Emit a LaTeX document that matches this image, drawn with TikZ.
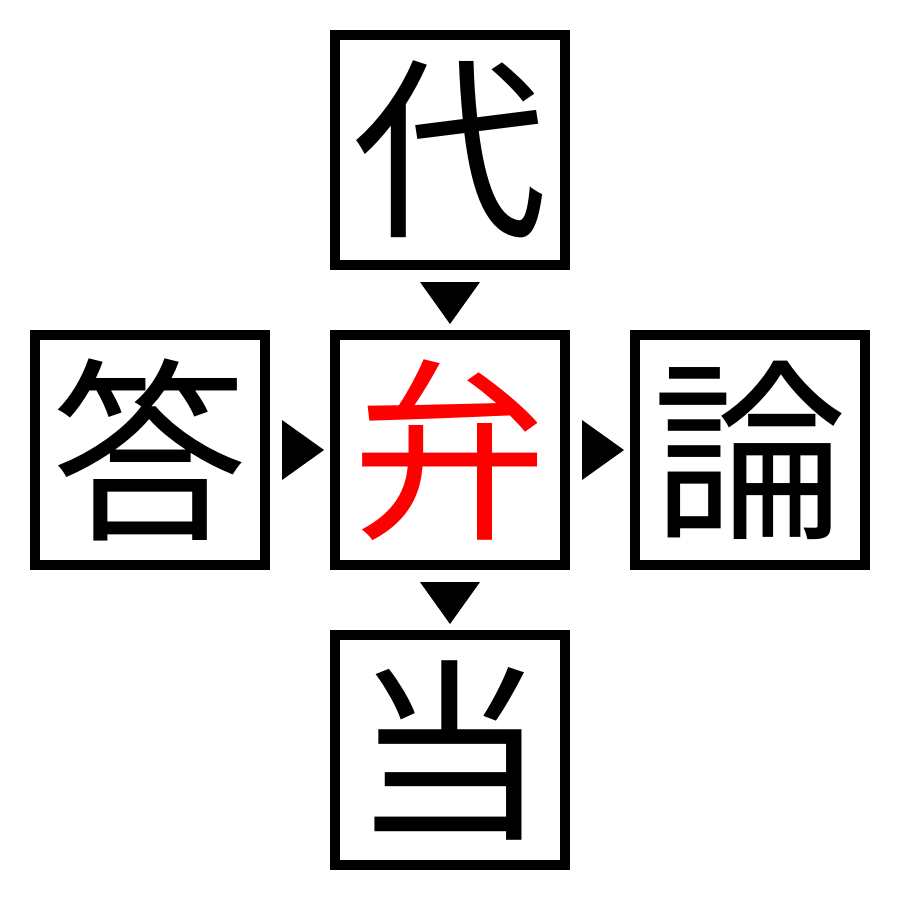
\documentclass[tikz,border=0pt]{standalone}
\usepackage{fontspec}
\usetikzlibrary{calc}
\newfontfamily\cjk{Noto Sans CJK JP}
\begin{document}
\begin{tikzpicture}[x=1pt,y=-1pt,
  cbox/.style={draw=black,line width=10pt,minimum size=230pt,inner sep=0pt,outer sep=5pt,
    font=\cjk\fontsize{195}{195}\selectfont}]
\useasboundingbox (0,0) rectangle (900,900);
\node[cbox] (t) at (450,150) {代};
\node[cbox] (l) at (150,450) {答};
\node[cbox,text=red] (c) at (450,450) {弁};
\node[cbox] (r) at (750,450) {論};
\node[cbox] (b) at (450,750) {当};
% triangles (down)
\fill ($(t.south)+(-30,12)$) -- ($(t.south)+(30,12)$) -- ($(c.north)+(0,-6)$) -- cycle;
\fill ($(c.south)+(-30,12)$) -- ($(c.south)+(30,12)$) -- ($(b.north)+(0,-6)$) -- cycle;
% triangles (right)
\fill ($(l.east)+(12,-30)$) -- ($(l.east)+(12,30)$) -- ($(c.west)+(-6,0)$) -- cycle;
\fill ($(c.east)+(12,-30)$) -- ($(c.east)+(12,30)$) -- ($(r.west)+(-6,0)$) -- cycle;
\end{tikzpicture}
\end{document}
